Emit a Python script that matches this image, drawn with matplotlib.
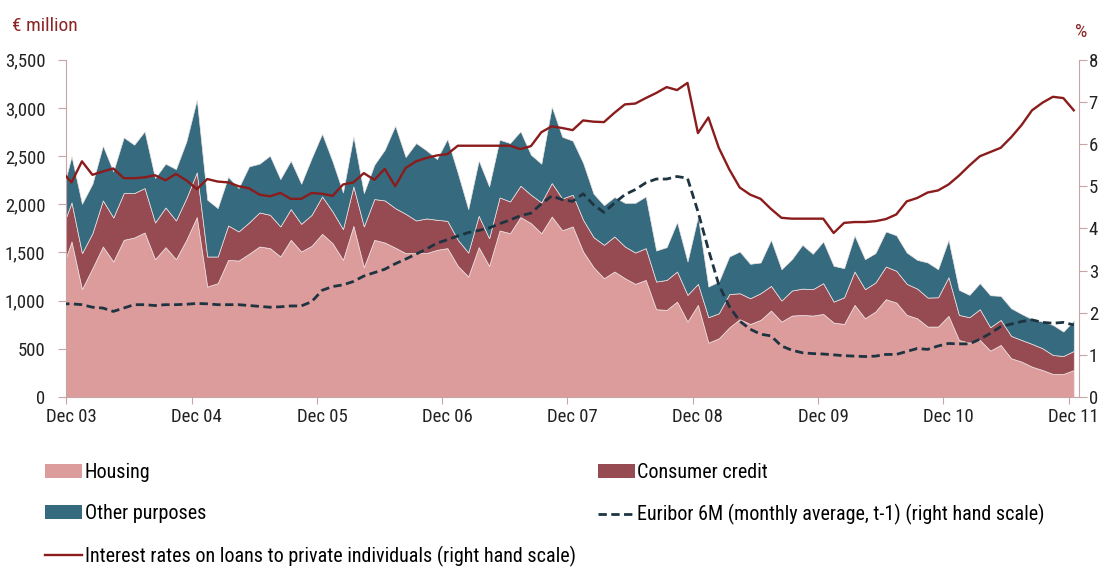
import matplotlib
matplotlib.use('Agg')
import matplotlib.pyplot as plt
import numpy as np
from matplotlib.patches import Patch
from matplotlib.lines import Line2D
from matplotlib.ticker import FuncFormatter
from matplotlib import font_manager as fm

_avail = set(f.name for f in fm.fontManager.ttflist)
_fams = [f for f in ['Roboto Condensed', 'Archivo Narrow', 'Barlow Semi Condensed'] if f in _avail]
plt.rcParams['font.family'] = _fams[:1] + ['DejaVu Sans']

# Months: Nov 03 (index -1, partly visible at left edge) ... Dec 11 (index 96)
tick_labels = ['Dec 03', 'Dec 04', 'Dec 05', 'Dec 06', 'Dec 07',
               'Dec 08', 'Dec 09', 'Dec 10', 'Dec 11']

housing = [1300,
           1614, 1119, 1337, 1562, 1406, 1631, 1655, 1707, 1430, 1555,
           1430, 1631, 1867, 1146, 1181, 1423, 1416, 1486, 1562, 1545,
           1458, 1631, 1510, 1569, 1693, 1596, 1423, 1776, 1347, 1631,
           1603, 1550, 1493, 1493, 1493, 1527, 1545, 1361, 1250, 1555,
           1361, 1728, 1700, 1867, 1804, 1700, 1873, 1730, 1770, 1510,
           1347, 1233, 1302, 1233, 1174, 1215, 911, 904, 990, 783,
           956, 564, 609, 722, 807, 758, 800, 897, 783, 845,
           852, 845, 862, 772, 758, 956, 817, 887, 1015, 980,
           852, 817, 731, 731, 842, 592, 564, 592, 481, 540,
           402, 367, 315, 280, 239, 239, 280]

consumer = [427,
            405, 374, 363, 478, 457, 485, 461, 461, 381, 412,
            402, 433, 464, 312, 277, 357, 302, 325, 353, 346,
            312, 319, 287, 322, 388, 329, 319, 409, 423, 423,
            437, 410, 408, 339, 360, 312, 283, 270, 249, 325,
            287, 343, 329, 325, 295, 319, 347, 330, 329, 329,
            312, 346, 364, 329, 325, 330, 287, 311, 312, 277,
            218, 264, 260, 346, 270, 267, 277, 256, 218, 260,
            273, 274, 319, 218, 277, 346, 302, 301, 339, 330,
            322, 308, 301, 304, 401, 260, 264, 319, 243, 260,
            232, 225, 236, 226, 197, 187, 198]

other = [354,
         478, 512, 513, 568, 478, 578, 502, 589, 461, 454,
         533, 589, 755, 589, 502, 505, 450, 582, 506, 613,
         491, 502, 416, 589, 651, 520, 381, 520, 346, 356,
         526, 855, 589, 803, 706, 630, 849, 693, 451, 575,
         537, 599, 606, 565, 415, 402, 793, 640, 561, 591,
         451, 411, 409, 453, 516, 536, 322, 340, 513, 346,
         699, 318, 329, 390, 433, 357, 319, 478, 325, 325,
         454, 367, 433, 371, 302, 374, 311, 305, 364, 368,
         325, 298, 364, 291, 388, 260, 232, 270, 332, 249,
         287, 270, 256, 277, 312, 253, 315]

rate = [5.37,
        5.09, 5.59, 5.27, 5.35, 5.42, 5.19, 5.19, 5.21, 5.26, 5.14,
        5.29, 5.14, 4.93, 5.17, 5.11, 5.09, 5.00, 4.95, 4.80, 4.76,
        4.84, 4.70, 4.70, 4.84, 4.82, 4.77, 5.04, 5.09, 5.31, 5.15,
        5.41, 5.00, 5.43, 5.59, 5.67, 5.73, 5.76, 5.96, 5.96, 5.96,
        5.96, 5.96, 5.96, 5.88, 5.95, 6.28, 6.42, 6.38, 6.33, 6.56,
        6.53, 6.52, 6.74, 6.94, 6.96, 7.09, 7.21, 7.35, 7.28, 7.45,
        6.26, 6.63, 5.91, 5.40, 4.97, 4.80, 4.70, 4.46, 4.25, 4.23,
        4.23, 4.23, 4.23, 3.89, 4.13, 4.15, 4.15, 4.17, 4.22, 4.33,
        4.64, 4.72, 4.85, 4.90, 5.04, 5.25, 5.49, 5.71, 5.81, 5.91,
        6.16, 6.45, 6.80, 6.98, 7.12, 7.09, 6.80]

euribor = [2.21,
           2.21, 2.19, 2.13, 2.11, 2.03, 2.11, 2.19, 2.19, 2.17, 2.19,
           2.19, 2.20, 2.22, 2.21, 2.19, 2.19, 2.19, 2.17, 2.15, 2.13,
           2.14, 2.16, 2.16, 2.26, 2.53, 2.62, 2.66, 2.74, 2.87, 2.95,
           3.03, 3.16, 3.27, 3.39, 3.51, 3.65, 3.73, 3.82, 3.90, 3.95,
           4.01, 4.11, 4.20, 4.30, 4.36, 4.58, 4.77, 4.68, 4.64, 4.82,
           4.56, 4.38, 4.60, 4.80, 4.92, 5.08, 5.17, 5.17, 5.23, 5.19,
           4.40, 3.50, 2.66, 2.15, 1.80, 1.61, 1.49, 1.45, 1.21, 1.11,
           1.05, 1.03, 1.02, 1.00, 0.98, 0.97, 0.96, 0.97, 1.01, 1.01,
           1.08, 1.15, 1.13, 1.21, 1.27, 1.26, 1.26, 1.37, 1.51, 1.67,
           1.73, 1.79, 1.83, 1.77, 1.75, 1.77, 1.71]

C_HOUSING = '#DD9C9C'
C_CONSUMER = '#964B53'
C_OTHER = '#366A7E'
C_RATE = '#8B1C1C'
C_EURIBOR = '#1E3441'
C_SPINE = '#C8A4A4'
C_TITLE = '#8B2525'
C_TEXT = '#222222'

x = np.arange(-1, len(housing) - 1)

fig = plt.figure(figsize=(11.07, 5.67), dpi=100)
ax = fig.add_axes([0.0599, 0.2998, 0.9148, 0.5949])

ax.stackplot(x, housing, consumer, other,
             colors=[C_HOUSING, C_CONSUMER, C_OTHER],
             edgecolor='#EDE3E3', linewidth=0.5)
ax.set_xlim(-0.5, 96.5)
ax.set_ylim(0, 3500)
ax.set_yticks(np.arange(0, 3501, 500))
ax.yaxis.set_major_formatter(FuncFormatter(lambda v, p: f'{int(v):,}'))

ax.set_xticks(np.arange(-0.5, 97, 12))
ax.set_xticklabels([])
ax.set_xticks(np.arange(0, 97, 12), minor=True)
ax.set_xticklabels(tick_labels, minor=True)
ax.tick_params(axis='x', which='major', length=5, color=C_SPINE, direction='out')
ax.tick_params(axis='x', which='minor', length=0, pad=8, labelsize=13.5, labelcolor=C_TEXT)
ax.tick_params(axis='y', length=6, color=C_SPINE, pad=9, labelsize=13.5, labelcolor=C_TEXT)

for s in ['top', 'right']:
    ax.spines[s].set_visible(False)
for s in ['left', 'bottom']:
    ax.spines[s].set_color(C_SPINE)

ax2 = ax.twinx()
ax2.set_ylim(0, 8)
ax2.set_yticks(np.arange(0, 9, 1))
ax2.plot(x, euribor, color=C_EURIBOR, lw=2, ls=(0, (3, 1.6)))
ax2.plot(x, rate, color=C_RATE, lw=1.7)
for s in ['top', 'left', 'bottom']:
    ax2.spines[s].set_visible(False)
ax2.spines['right'].set_color(C_SPINE)
ax2.tick_params(axis='y', length=6, color=C_SPINE, pad=1, labelsize=13.5, labelcolor=C_TEXT)

fig.text(0.0105, 0.955, '€ million', color=C_TITLE, fontsize=14, va='center', ha='left')
fig.text(0.977, 0.944, '%', color=C_TITLE, fontsize=14, va='center', ha='center')

h_housing = Patch(facecolor=C_HOUSING, edgecolor='none')
h_consumer = Patch(facecolor=C_CONSUMER, edgecolor='none')
h_other = Patch(facecolor=C_OTHER, edgecolor='none')
h_rate = Line2D([], [], color=C_RATE, lw=1.7)
h_eur = Line2D([], [], color=C_EURIBOR, lw=2, ls=(0, (3, 1.6)))

common = dict(frameon=False, fontsize=14.5, handlelength=1.85, handletextpad=0.12,
              labelspacing=1.1, borderpad=0, borderaxespad=0, loc='upper left')
leg1 = fig.legend([h_housing, h_other, h_rate],
                  ['Housing', 'Other purposes',
                   'Interest rates on loans to private individuals (right hand scale)'],
                  bbox_to_anchor=(0.0407, 0.183), **common)
leg2 = fig.legend([h_consumer, h_eur],
                  ['Consumer credit', 'Euribor 6M (monthly average, t-1) (right hand scale)'],
                  bbox_to_anchor=(0.540, 0.183), **common)

fig.savefig('out.png', dpi=100)
